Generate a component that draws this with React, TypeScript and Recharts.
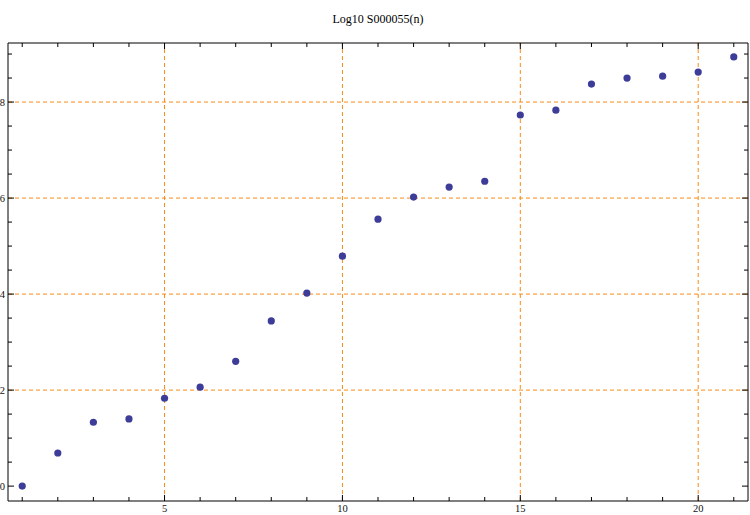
import React from 'react';
import { ScatterChart, Scatter, XAxis, YAxis, ReferenceLine } from 'recharts';

const nValues = [1, 2, 3, 4, 5, 6, 7, 8, 9, 10, 11, 12, 13, 14, 15, 16, 17, 18, 19, 20, 21];
const logValues = [0, 0.69, 1.33, 1.4, 1.83, 2.06, 2.6, 3.44, 4.02, 4.79, 5.56, 6.02, 6.23, 6.35, 7.73, 7.83, 8.375, 8.5, 8.54, 8.625, 8.94];
const xTicks = [1, 2, 3, 4, 5, 6, 7, 8, 9, 10, 11, 12, 13, 14, 15, 16, 17, 18, 19, 20, 21];
const xMajor = [5, 10, 15, 20];
const yTicks = [0, 0.5, 1, 1.5, 2, 2.5, 3, 3.5, 4, 4.5, 5, 5.5, 6, 6.5, 7, 7.5, 8, 8.5, 9];
const yMajor = [0, 2, 4, 6, 8];
const gridX = [5, 10, 15, 20];
const gridY = [2, 4, 6, 8];
const title = 'Log10 S000055(n)';

const data = nValues.map((n, i) => ({ n, v: logValues[i] }));

const ORANGE = '#f98a14';
const POINT = '#3d3d99';
const FONT = '"Liberation Serif", "DejaVu Serif", serif';

const BottomTick = (props: any) => {
  const { x, y, payload } = props;
  const major = xMajor.includes(payload.value);
  return (
    <g>
      <line x1={x} y1={y} x2={x} y2={y - (major ? 6 : 4)} stroke="#000" strokeWidth={1} />
      {major && (
        <text x={x} y={y + 11} textAnchor="middle" fontSize={10.5} fontFamily={FONT} fill="#111">
          {payload.value}
        </text>
      )}
    </g>
  );
};

const TopTick = (props: any) => {
  const { x, y, payload } = props;
  const major = xMajor.includes(payload.value);
  return <line x1={x} y1={y} x2={x} y2={y + (major ? 6 : 4)} stroke="#000" strokeWidth={1} />;
};

const LeftTick = (props: any) => {
  const { x, y, payload } = props;
  const major = yMajor.includes(payload.value);
  return (
    <g>
      <line x1={x} y1={y} x2={x + (major ? 6 : 4)} y2={y} stroke="#000" strokeWidth={1} />
      {major && (
        <text x={x - 3} y={y + 3.5} textAnchor="end" fontSize={10.5} fontFamily={FONT} fill="#111">
          {payload.value}
        </text>
      )}
    </g>
  );
};

const RightTick = (props: any) => {
  const { x, y, payload } = props;
  const major = yMajor.includes(payload.value);
  return <line x1={x} y1={y} x2={x - (major ? 6 : 4)} y2={y} stroke="#000" strokeWidth={1} />;
};

const Dot = (props: any) => {
  const { cx, cy } = props;
  return <circle cx={cx} cy={cy} r={3.6} fill={POINT} />;
};

export default function App() {
  return (
    <div style={{ position: 'absolute', left: 0, top: 0, width: 750, height: 515, background: '#fff' }}>
      <div
        style={{
          position: 'absolute',
          left: 3,
          top: 13,
          width: 750,
          textAlign: 'center',
          fontFamily: FONT,
          fontSize: 12,
          lineHeight: '12px',
          color: '#000',
        }}
      >
        {title}
      </div>
      <ScatterChart width={750} height={515} margin={{ top: 42, right: 1, bottom: 0, left: 0 }}>
        <XAxis
          xAxisId="b"
          dataKey="n"
          type="number"
          domain={[0.6, 21.4]}
          ticks={xTicks}
          interval={0}
          allowDataOverflow
          orientation="bottom"
          height={14}
          tickSize={0}
          tickMargin={0}
          tickLine={false}
          axisLine={{ stroke: '#000', strokeWidth: 1 }}
          tick={<BottomTick />}
        />
        <XAxis
          xAxisId="t"
          dataKey="n"
          type="number"
          domain={[0.6, 21.4]}
          ticks={xTicks}
          interval={0}
          allowDataOverflow
          orientation="top"
          height={1}
          tickSize={0}
          tickMargin={0}
          tickLine={false}
          axisLine={{ stroke: '#000', strokeWidth: 1 }}
          tick={<TopTick />}
        />
        <YAxis
          yAxisId="l"
          dataKey="v"
          type="number"
          domain={[-0.31, 9.23]}
          ticks={yTicks}
          interval={0}
          allowDataOverflow
          orientation="left"
          width={8}
          tickSize={0}
          tickMargin={0}
          tickLine={false}
          axisLine={{ stroke: '#000', strokeWidth: 1 }}
          tick={<LeftTick />}
        />
        <YAxis
          yAxisId="r"
          dataKey="v"
          type="number"
          domain={[-0.31, 9.23]}
          ticks={yTicks}
          interval={0}
          allowDataOverflow
          orientation="right"
          width={1}
          tickSize={0}
          tickMargin={0}
          tickLine={false}
          axisLine={{ stroke: '#000', strokeWidth: 1 }}
          tick={<RightTick />}
        />
        {gridX.map((g) => (
          <ReferenceLine key={'gx' + g} x={g} xAxisId="b" yAxisId="l" stroke={ORANGE} strokeWidth={1} strokeDasharray="4 3" />
        ))}
        {gridY.map((g) => (
          <ReferenceLine key={'gy' + g} y={g} xAxisId="b" yAxisId="l" stroke={ORANGE} strokeWidth={1} strokeDasharray="4 3" />
        ))}
        <Scatter data={data} xAxisId="b" yAxisId="l" fill={POINT} shape={<Dot />} isAnimationActive={false} />
      </ScatterChart>
    </div>
  );
}
